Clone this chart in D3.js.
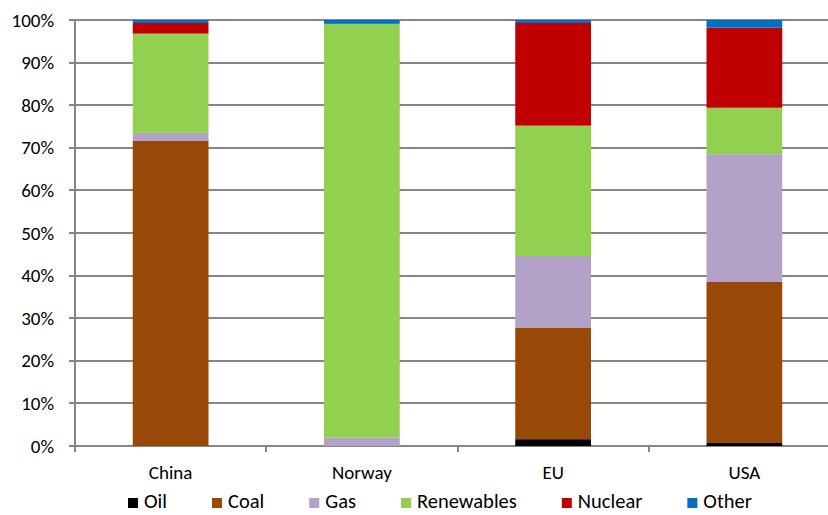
<!DOCTYPE html>
<html lang="en">
<head>
    <meta charset="UTF-8">
    <title>Electricity mix</title>
    <script src="https://cdnjs.cloudflare.com/ajax/libs/d3/7.8.5/d3.min.js"></script>
    <style>
        body { margin: 0; background: #fff; }
        text { font-family: "Carlito", "Liberation Sans", Arial, sans-serif; fill: #000; }
        .grid line { stroke: #868686; stroke-width: 1.5px; shape-rendering: crispEdges; }
    </style>
</head>
<body>
<script>
    // categories and series (shares in %)
    var countries = ["China", "Norway", "EU", "USA"];
    var sources = ["Oil", "Coal", "Gas", "Renewables", "Nuclear", "Other"];
    var oil        = [0,    0,    1.6,  0.7];
    var coal       = [71.6, 0,    26.2, 37.8];
    var gas        = [1.9,  2.0,  16.8, 30.0];
    var renewables = [23.3, 97.1, 30.6, 10.9];
    var nuclear    = [2.5,  0,    24.1, 18.8];
    var other      = [0.7,  0.9,  0.7,  1.8];
    var yTicks = [0, 10, 20, 30, 40, 50, 60, 70, 80, 90, 100];

    var colors = ["#000000", "#984807", "#B2A2C7", "#92D050", "#C00000", "#0070C0"];

    var W = 828, H = 515;
    var plotLeft = 75, plotTop = 20, plotBottom = 446;
    var step = 191.25;

    // rows for the stack
    var series = [oil, coal, gas, renewables, nuclear, other];
    var rows = countries.map(function(c, i) {
        var r = {country: c};
        sources.forEach(function(s, j) { r[s] = series[j][i]; });
        return r;
    });

    var x = d3.scaleBand()
        .domain(countries)
        .range([plotLeft, plotLeft + step * countries.length])
        .paddingInner(0.604)
        .paddingOuter(0.302);

    var y = d3.scaleLinear().domain([0, 100]).range([plotBottom, plotTop]);

    var color = d3.scaleOrdinal().domain(sources).range(colors);

    var svg = d3.select("body").append("svg")
        .attr("width", W)
        .attr("height", H);

    // horizontal gridlines with tick labels
    var grid = svg.append("g").attr("class", "grid");
    grid.selectAll(".hl")
        .data(yTicks)
        .enter().append("line")
        .attr("class", "hl")
        .attr("x1", plotLeft - 6)
        .attr("x2", W)
        .attr("y1", function(d) { return Math.round(y(d)); })
        .attr("y2", function(d) { return Math.round(y(d)); });

    grid.selectAll("text")
        .data(yTicks)
        .enter().append("text")
        .attr("x", 54)
        .attr("y", function(d) { return y(d); })
        .attr("dy", "0.35em")
        .attr("text-anchor", "end")
        .style("font-size", "19px")
        .text(function(d) { return d + "%"; });

    // vertical axis line
    grid.append("line")
        .attr("x1", plotLeft).attr("x2", plotLeft)
        .attr("y1", plotTop).attr("y2", plotBottom + 6);

    // category separators below the axis
    var seps = d3.range(1, countries.length);
    grid.selectAll(".sep")
        .data(seps)
        .enter().append("line")
        .attr("class", "sep")
        .attr("x1", function(d) { return Math.round(plotLeft + d * x.step()); })
        .attr("x2", function(d) { return Math.round(plotLeft + d * x.step()); })
        .attr("y1", plotBottom)
        .attr("y2", plotBottom + 6);

    // stacked bars
    var stack = d3.stack().keys(sources);
    var layers = svg.append("g").selectAll("g")
        .data(stack(rows))
        .enter().append("g")
        .attr("fill", function(d) { return color(d.key); });

    layers.selectAll("rect")
        .data(function(d) { return d; })
        .enter().append("rect")
        .attr("x", function(d) { return x(d.data.country); })
        .attr("width", x.bandwidth())
        .attr("y", function(d) { return y(d[1]); })
        .attr("height", function(d) { return y(d[0]) - y(d[1]); });

    // category labels
    svg.append("g").selectAll("text")
        .data(countries)
        .enter().append("text")
        .attr("x", function(d) { return x(d) + x.bandwidth() / 2; })
        .attr("y", 479)
        .attr("text-anchor", "middle")
        .style("font-size", "19px")
        .text(function(d) { return d; });

    // legend, laid out left to right
    var legend = svg.append("g");
    var cursor = 128;
    sources.forEach(function(s) {
        legend.append("rect")
            .attr("x", cursor)
            .attr("y", 498)
            .attr("width", 10)
            .attr("height", 10)
            .attr("fill", color(s));
        var t = legend.append("text")
            .attr("x", cursor + 16)
            .attr("y", 508)
            .style("font-size", "20.5px")
            .text(s);
        cursor += 16 + t.node().getComputedTextLength() + 45;
    });
</script>
</body>
</html>
